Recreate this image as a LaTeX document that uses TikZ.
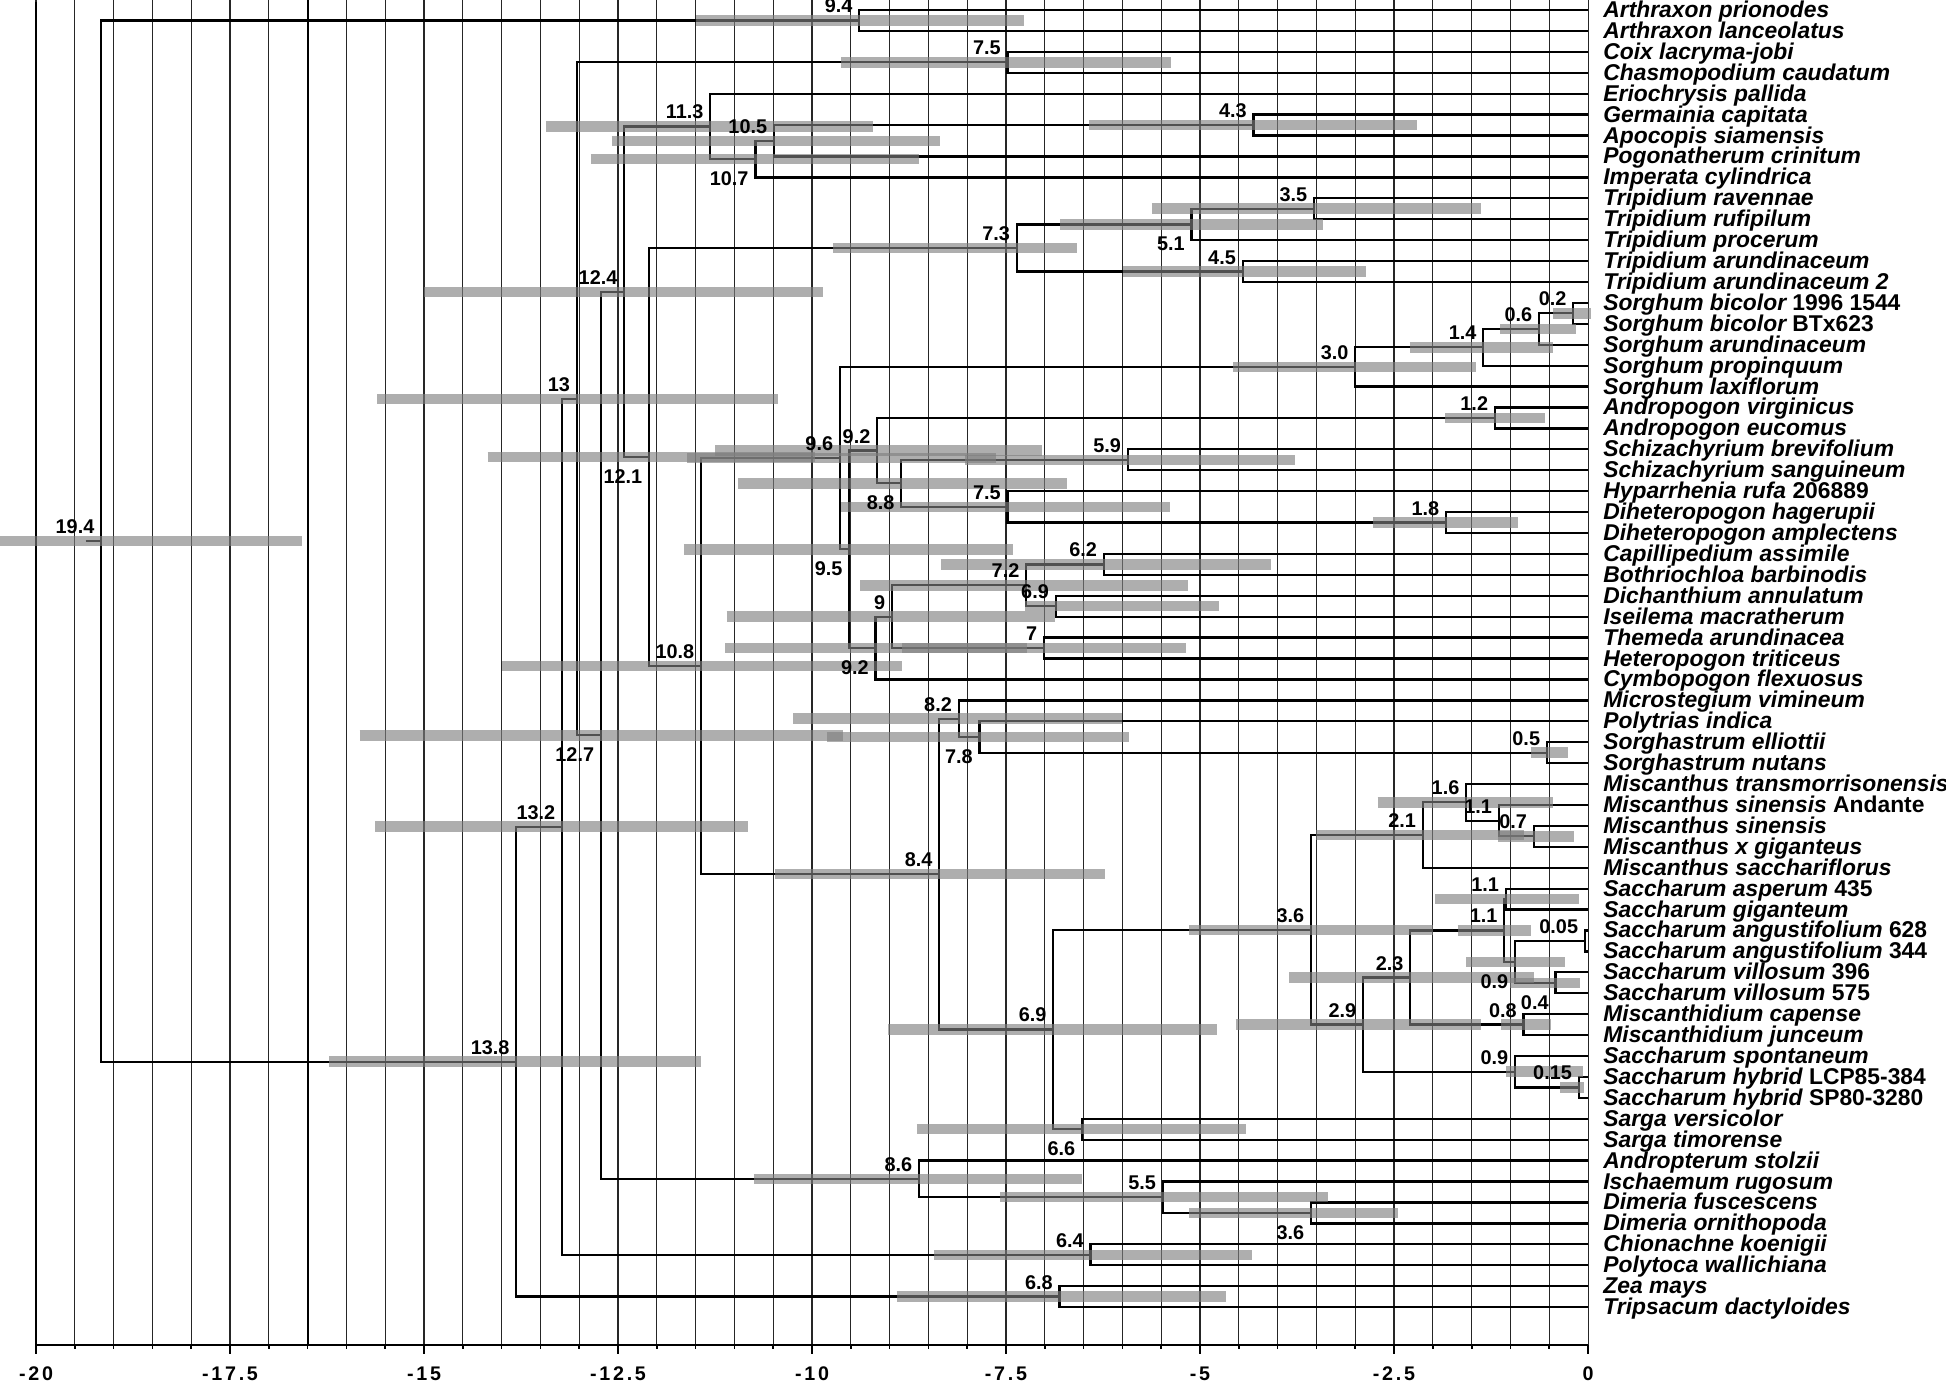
\documentclass[tikz,border=0pt]{standalone}
\usepackage{fontspec}
\setmainfont{Liberation Sans}
\newfontfamily\axisfont{Liberation Sans}[LetterSpace=14]

\begin{document}
\begin{tikzpicture}[
  x=1.552cm, y=0.4184cm,
  gridline/.style={black!85, line width=0.6pt},
  gridbold/.style={black, line width=1.2pt},
  axisline/.style={black, line width=1pt},
  branch/.style={black, line width=1.3pt},
  hpd/.style={draw=gray, draw opacity=0.63, line width=0.21cm},
  agefont/.style={inner sep=0pt, font=\bfseries\fontsize{11.3}{11.3}\selectfont},
  agea/.style={agefont, anchor=base east, xshift=-0.13cm, yshift=0.15cm},
  ageb/.style={agefont, anchor=north east, xshift=-0.13cm, yshift=-0.24cm},
  taxon/.style={anchor=base west, inner sep=0pt, xshift=0.3cm, yshift=-0.15cm,
                font=\bfseries\itshape\fontsize{13}{13}\selectfont},
  axlab/.style={inner sep=0pt, font=\axisfont\bfseries\fontsize{11.2}{11.2}\selectfont}
]
\useasboundingbox[fill=white] (-20.464,-0.522) rectangle (4.613,-66.58);

% time grid and axis
\foreach \k in {0,...,40}
  \draw[gridline] ({-20+\k/2},-0.52) -- ({-20+\k/2},-64.81);
\draw[gridbold] (-20,-0.6) -- (-20,-64.81);
\draw[gridbold] (-16.5,-0.52) -- (-16.5,-64.81);

\coordinate (axL) at (-20,-64.81);
\coordinate (axR) at (0,-64.81);
\draw[axisline] (axL) -- (axR);
\foreach \k in {0,...,40}
  \draw[axisline] ({-20+\k/2},-64.81) -- ++(0,-0.08cm);
\foreach \k in {0,5,...,40}
  \draw[axisline] ({-20+\k/2},-64.81) -- ++(0,-0.18cm);
\foreach \v [count=\k] in {-20,-17.5,-15,-12.5,-10,-7.5,-5,-2.5,0}
  \node[axlab] (xlab\k) at (\v,-66.2) {\v};

% tips and internal nodes
\foreach \i in {1,...,63}
  \coordinate (t\i) at (0,-\i);

\foreach \n/\x/\y in {
  n194/-19.16/-26.39, n94/-9.39/-1.5, n138/-13.81/-51.27, n68/-6.81/-62.5,
  n132/-13.22/-40.04, n64/-6.41/-60.5, n130/-13.03/-19.59, n75a/-7.48/-3.5,
  n127/-12.72/-35.67, n86/-8.62/-56.875, n55/-5.48/-57.75, n36d/-3.57/-58.5,
  n124/-12.42/-14.47, n113/-11.31/-6.5625, n107/-10.73/-8.125, n105/-10.49/-7.25,
  n43/-4.31/-6.5, n121/-12.10/-22.37, n73/-7.36/-12.375, n51/-5.11/-11.25,
  n35/-3.53/-10.5, n45/-4.45/-13.5, n108/-11.43/-32.36, n96/-9.64/-22.42,
  n30/-3.00/-18.0625, n14/-1.35/-17.125, n06/-0.63/-16.25, n02/-0.19/-15.5,
  n95/-9.52/-26.78, n92a/-9.16/-22.0625, n12/-1.20/-20.5, n88/-8.85/-23.625,
  n59/-5.93/-22.5, n75b/-7.48/-24.75, n18/-1.83/-25.5, n92b/-9.18/-31.5,
  n90/-8.97/-30, n72/-7.24/-28.5, n62/-6.24/-27.5, n69b/-6.86/-29.5,
  n70/-7.01/-31.5, n84/-8.36/-42.30, n82/-8.11/-34.875, n78/-7.84/-35.75,
  n05/-0.53/-36.5, n69/-6.89/-49.73, n66/-6.52/-54.5, n36b/-3.57/-44.97,
  n21/-2.13/-40.4375, n16/-1.57/-38.875, n11c/-1.15/-39.75, n07/-0.70/-40.5,
  n29/-2.90/-49.5, n23/-2.29/-47.25, n11b/-1.08/-45, n11a/-1.06/-43.5,
  n09a/-0.94/-46.5, n005/-0.04/-45.5, n04/-0.42/-47.5, n08/-0.83/-49.5,
  n09b/-0.94/-51.75, n015/-0.12/-52.5}
  \coordinate (\n) at (\x,\y);
\coordinate (rootstub) at (-19.36,-26.39);

% branches
\draw[branch] (rootstub) -- (n194);
\foreach \p/\a/\b in {
  n194/n94/n138, n94/t1/t2, n138/n132/n68, n68/t62/t63, n132/n130/n64,
  n64/t60/t61, n130/n75a/n127, n75a/t3/t4, n127/n124/n86, n86/t56/n55,
  n55/t57/n36d, n36d/t58/t59, n124/n113/n121, n113/t5/n107, n107/n105/t9,
  n105/n43/t8, n43/t6/t7, n121/n73/n108, n73/n51/n45, n51/n35/t12,
  n35/t10/t11, n45/t13/t14, n108/n96/n84, n96/n30/n95, n30/n14/t19,
  n14/n06/t18, n06/n02/t17, n02/t15/t16, n95/n92a/n92b, n92a/n12/n88,
  n12/t20/t21, n88/n59/n75b, n59/t22/t23, n75b/t24/n18, n18/t25/t26,
  n92b/n90/t33, n90/n72/n70, n72/n62/n69b, n62/t27/t28, n69b/t29/t30,
  n70/t31/t32, n84/n82/n69, n82/t34/n78, n78/t35/n05, n05/t36/t37,
  n69/n36b/n66, n66/t54/t55, n36b/n21/n29, n21/n16/t42, n16/t38/n11c,
  n11c/t39/n07, n07/t40/t41, n29/n23/n09b, n23/n11b/n08, n11b/n11a/n09a,
  n11a/t43/t44, n09a/n005/n04, n005/t45/t46, n04/t47/t48, n08/t49/t50,
  n09b/t51/n015, n015/t52/t53}
  \draw[branch] (\a) -| (\p) |- (\b);

% 95% HPD bars
\foreach \n/\lo/\hi in {
  n194/-20.46/-16.57, n94/-11.49/-7.27, n75a/-9.62/-5.37, n113/-13.43/-9.21,
  n105/-12.58/-8.35, n107/-12.85/-8.62, n43/-6.43/-2.2, n35/-5.62/-1.38,
  n51/-6.80/-3.41, n73/-9.73/-6.59, n45/-5.99/-2.86, n124/-15.0/-9.86,
  n02/-0.45/0.04, n06/-1.13/-0.15, n14/-2.30/-0.45, n30/-4.57/-1.44,
  n130/-15.6/-10.44, n12/-1.84/-0.56, n121/-14.18/-9.96, n96/-11.61/-7.63,
  n92a/-11.25/-7.04, n59/-8.03/-3.77, n88/-10.95/-6.72, n75b/-9.62/-5.39,
  n18/-2.77/-0.9, n95/-11.65/-7.41, n62/-8.34/-4.09, n72/-9.38/-5.15,
  n69b/-7.25/-4.75, n90/-11.1/-6.87, n70/-8.84/-5.18, n92b/-11.12/-7.23,
  n108/-14.0/-8.84, n82/-10.24/-6.01, n127/-15.83/-9.6, n78/-9.81/-5.92,
  n05/-0.74/-0.26, n16/-2.71/-0.45, n132/-15.63/-10.83, n21/-3.5/-0.82,
  n07/-1.16/-0.18, n84/-10.48/-6.22, n11a/-1.97/-0.12, n36b/-5.14/-2.0,
  n11b/-1.68/-0.74, n09a/-1.57/-0.30, n04/-1.0/-0.1, n23/-3.85/-0.70,
  n69/-9.02/-4.78, n29/-4.54/-1.38, n08/-1.12/-0.48, n138/-16.22/-11.43,
  n09b/-1.06/-0.06, n015/-0.36/-0.05, n66/-8.65/-4.41, n86/-10.75/-6.52,
  n55/-7.58/-3.35, n36d/-5.14/-2.45, n64/-8.43/-4.33, n68/-8.91/-4.66}
  \draw[hpd] (\lo,0 |- \n) -- (\hi,0 |- \n);

% node ages
\foreach \n/\lab in {
  n194/19.4, n94/9.4, n75a/7.5, n113/11.3, n105/10.5, n43/4.3, n35/3.5,
  n73/7.3, n45/4.5, n124/12.4, n02/0.2, n06/0.6, n14/1.4, n30/3.0, n130/13,
  n12/1.2, n96/9.6, n92a/9.2, n59/5.9, n75b/7.5, n18/1.8, n62/6.2, n72/7.2,
  n69b/6.9, n90/9, n70/7, n108/10.8, n82/8.2, n05/0.5, n16/1.6, n21/2.1,
  n11c/1.1, n07/0.7, n132/13.2, n11a/1.1, n11b/1.1, n005/0.05, n84/8.4,
  n36b/3.6, n23/2.3, n08/0.8, n69/6.9, n29/2.9, n138/13.8, n09b/0.9,
  n015/0.15, n86/8.6, n55/5.5, n64/6.4, n68/6.8}
  \node[agea] (a\n) at (\n) {\lab};
\foreach \n/\lab in {
  n107/10.7, n121/12.1, n88/8.8, n95/9.5, n92b/9.2, n127/12.7, n78/7.8,
  n09a/0.9, n04/0.4, n51/5.1, n66/6.6, n36d/3.6}
  \node[ageb] (a\n) at (\n) {\lab};

% taxa
\foreach \i/\txt in {
  1/{Arthraxon prionodes}, 2/{Arthraxon lanceolatus}, 3/{Coix lacryma-jobi},
  4/{Chasmopodium caudatum}, 5/{Eriochrysis pallida}, 6/{Germainia capitata},
  7/{Apocopis siamensis}, 8/{Pogonatherum crinitum}, 9/{Imperata cylindrica},
  10/{Tripidium ravennae}, 11/{Tripidium rufipilum}, 12/{Tripidium procerum},
  13/{Tripidium arundinaceum}, 14/{Tripidium arundinaceum 2},
  15/{Sorghum bicolor {\upshape 1996 1544}}, 16/{Sorghum bicolor {\upshape BTx623}},
  17/{Sorghum arundinaceum}, 18/{Sorghum propinquum}, 19/{Sorghum laxiflorum},
  20/{Andropogon virginicus}, 21/{Andropogon eucomus},
  22/{Schizachyrium brevifolium}, 23/{Schizachyrium sanguineum},
  24/{Hyparrhenia rufa {\upshape 206889}}, 25/{Diheteropogon hagerupii},
  26/{Diheteropogon amplectens}, 27/{Capillipedium assimile},
  28/{Bothriochloa barbinodis}, 29/{Dichanthium annulatum},
  30/{Iseilema macratherum}, 31/{Themeda arundinacea}, 32/{Heteropogon triticeus},
  33/{Cymbopogon flexuosus}, 34/{Microstegium vimineum}, 35/{Polytrias indica},
  36/{Sorghastrum elliottii}, 37/{Sorghastrum nutans},
  38/{Miscanthus transmorrisonensis}, 39/{Miscanthus sinensis {\upshape Andante}},
  40/{Miscanthus sinensis}, 41/{Miscanthus x giganteus},
  42/{Miscanthus sacchariflorus}, 43/{Saccharum asperum {\upshape 435}},
  44/{Saccharum giganteum}, 45/{Saccharum angustifolium {\upshape 628}},
  46/{Saccharum angustifolium {\upshape 344}}, 47/{Saccharum villosum {\upshape 396}},
  48/{Saccharum villosum {\upshape 575}}, 49/{Miscanthidium capense},
  50/{Miscanthidium junceum}, 51/{Saccharum spontaneum},
  52/{Saccharum hybrid {\upshape LCP85-384}}, 53/{Saccharum hybrid {\upshape SP80-3280}},
  54/{Sarga versicolor}, 55/{Sarga timorense}, 56/{Andropterum stolzii},
  57/{Ischaemum rugosum}, 58/{Dimeria fuscescens}, 59/{Dimeria ornithopoda},
  60/{Chionachne koenigii}, 61/{Polytoca wallichiana}, 62/{Zea mays},
  63/{Tripsacum dactyloides}}
  \node[taxon] (l\i) at (t\i) {\txt};

\end{tikzpicture}
\end{document}
